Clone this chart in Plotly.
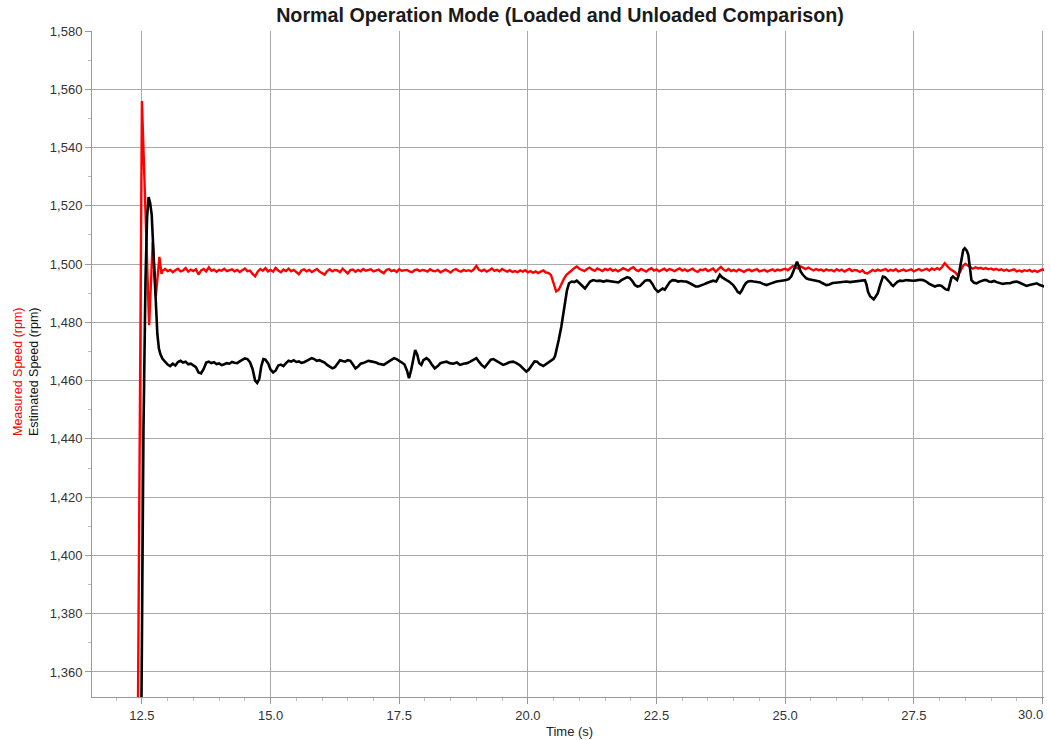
import numpy as np
import plotly.graph_objects as go

# ---------------- data ----------------
# Measured speed: start-up transient (explicit samples)
meas_t_transient = [12.38, 12.43, 12.465, 12.50, 12.64, 12.71, 12.77, 12.84, 12.88]
meas_v_transient = [1230, 1351, 1443, 1556, 1479, 1507.5, 1489, 1502.5, 1496.6]

# Measured speed: steady part sampled every 0.05 s from 12.90 s
meas_t0 = 12.90
meas_dt = 0.05
meas_v_steady = [
    1497.7, 1498.3, 1497.6, 1498.0, 1497.2, 1497.9, 1498.4, 1497.5, 1497.8, 1498.6, 1497.4, 1498.1, 1497.6, 1498.2, 1496.4, 1497.8, 1498.3, 1497.5, 1498.9, 1497.7,
    1498.1, 1497.4, 1498.0, 1497.7, 1498.4, 1497.6, 1497.9, 1498.2, 1497.5, 1498.0, 1497.3, 1497.9, 1498.5, 1497.6, 1497.8, 1496.6, 1495.8, 1497.4, 1498.3, 1497.7,
    1498.6, 1497.5, 1498.0, 1497.4, 1498.7, 1497.8, 1497.2, 1498.1, 1497.6, 1498.4, 1497.5, 1498.0, 1497.1, 1496.5, 1497.8, 1498.2, 1497.5, 1498.0, 1497.3, 1497.9,
    1498.3, 1497.4, 1497.0, 1496.4, 1497.6, 1498.2, 1497.5, 1498.0, 1497.8, 1497.2, 1498.4, 1497.6, 1496.8, 1497.9, 1498.1, 1497.4, 1498.0, 1497.5, 1498.3, 1497.7,
    1497.9, 1498.2, 1497.5, 1497.9, 1498.1, 1497.4, 1496.9, 1498.0, 1498.3, 1497.6, 1497.9, 1497.3, 1498.2, 1497.7, 1497.8, 1498.0, 1497.5, 1497.2, 1497.9, 1498.1,
    1497.6, 1498.0, 1497.8, 1497.4, 1498.2, 1497.7, 1497.5, 1498.0, 1497.2, 1497.8, 1498.1, 1497.6, 1497.1, 1497.9, 1498.3, 1497.7, 1497.4, 1498.0, 1497.6, 1497.9,
    1497.5, 1498.2, 1499.4, 1498.0, 1497.6, 1498.1, 1497.4, 1497.9, 1498.5, 1497.7, 1498.0, 1497.5, 1498.3, 1497.8, 1497.4, 1497.9, 1497.3, 1497.6, 1497.2, 1497.8,
    1497.4, 1497.9, 1497.2, 1497.6, 1497.0, 1497.5, 1496.9, 1497.4, 1497.8, 1497.1, 1497.0, 1496.2, 1493.6, 1490.6, 1491.2, 1493.2, 1494.9, 1496.3, 1497.2, 1497.8,
    1498.6, 1499.2, 1498.4, 1498.0, 1497.6, 1498.3, 1498.8, 1498.1, 1497.7, 1498.5, 1498.0, 1497.6, 1498.3, 1497.9, 1498.4, 1497.7, 1498.1, 1497.5, 1498.0, 1498.6,
    1498.2, 1497.8, 1498.5, 1498.9, 1498.0, 1497.6, 1498.3, 1497.9, 1497.4, 1498.1, 1498.6, 1497.8, 1498.2, 1497.5, 1498.0, 1498.4, 1497.7, 1498.3, 1498.0, 1497.6,
    1498.1, 1498.5, 1497.8, 1498.2, 1497.6, 1498.0, 1498.4, 1497.7, 1497.3, 1498.1, 1497.9, 1498.3, 1497.6, 1498.0, 1498.5, 1497.4, 1498.2, 1499.0, 1498.1, 1497.7,
    1498.3, 1497.6, 1498.0, 1497.5, 1498.2, 1497.8, 1497.3, 1497.9, 1498.1, 1497.6, 1497.9, 1498.3, 1497.5, 1497.8, 1498.0, 1497.4, 1497.9, 1498.2, 1497.6, 1498.1,
    1497.8, 1498.0, 1498.4, 1497.9, 1498.6, 1499.3, 1499.0, 1498.5, 1499.2, 1498.7, 1498.3, 1498.8, 1498.2, 1497.8, 1498.3, 1497.9, 1498.1, 1497.6, 1498.2, 1497.8,
    1498.0, 1497.5, 1498.2, 1497.7, 1498.1, 1497.4, 1497.9, 1498.3, 1497.6, 1498.0, 1497.8, 1497.3, 1497.9, 1497.0, 1496.8, 1497.4, 1498.0, 1497.6, 1498.1, 1497.7,
    1497.9, 1498.3, 1497.6, 1498.0, 1497.7, 1498.2, 1497.5, 1497.9, 1498.1, 1497.6, 1497.8, 1498.2, 1497.5, 1497.9, 1498.3, 1497.7, 1498.0, 1498.4, 1497.8, 1498.5,
    1498.0, 1498.6, 1498.1, 1499.0, 1500.3, 1499.2, 1498.4, 1497.8, 1497.2, 1496.2, 1497.3, 1499.2, 1500.1, 1499.5, 1498.8, 1498.4, 1498.9, 1498.5, 1498.7, 1498.3,
    1498.6, 1498.2, 1498.5, 1498.0, 1498.4, 1497.9, 1498.2, 1497.7, 1498.1, 1497.6, 1497.9, 1498.2, 1497.5, 1497.8, 1497.4, 1497.9, 1497.6, 1498.0, 1497.4, 1497.8,
    1497.3, 1497.9, 1498.2, 1497.8,
]

# Estimated speed (explicit samples)
est_t = [
    12.45, 12.49, 12.53, 12.57, 12.60, 12.63, 12.66, 12.69, 12.72, 12.75, 12.78, 12.80, 12.83, 12.86, 12.90, 12.95,
    13.00, 13.05, 13.10, 13.15, 13.20, 13.25, 13.30, 13.35, 13.40, 13.45, 13.50, 13.55, 13.60, 13.65, 13.70, 13.75,
    13.80, 13.85, 13.90, 13.95, 14.00, 14.05, 14.10, 14.15, 14.20, 14.25, 14.30, 14.35, 14.40, 14.45, 14.50, 14.55,
    14.60, 14.65, 14.70, 14.74, 14.78, 14.82, 14.86, 14.90, 14.95, 15.00, 15.05, 15.10, 15.15, 15.20, 15.25, 15.30,
    15.35, 15.40, 15.45, 15.50, 15.55, 15.60, 15.65, 15.70, 15.75, 15.80, 15.85, 15.90, 15.95, 16.00, 16.05, 16.10,
    16.15, 16.20, 16.25, 16.30, 16.35, 16.40, 16.45, 16.50, 16.55, 16.60, 16.65, 16.70, 16.75, 16.80, 16.85, 16.90,
    16.95, 17.00, 17.05, 17.10, 17.15, 17.20, 17.25, 17.30, 17.35, 17.40, 17.45, 17.50, 17.55, 17.60, 17.65, 17.69,
    17.73, 17.77, 17.81, 17.85, 17.89, 17.93, 17.97, 18.03, 18.08, 18.13, 18.19, 18.25, 18.30, 18.36, 18.42, 18.48,
    18.55, 18.62, 18.68, 18.75, 18.82, 18.88, 18.94, 19.00, 19.05, 19.10, 19.16, 19.22, 19.28, 19.33, 19.38, 19.45,
    19.52, 19.58, 19.64, 19.71, 19.78, 19.85, 19.92, 19.97, 20.02, 20.08, 20.13, 20.18, 20.23, 20.30, 20.36, 20.42,
    20.46, 20.50, 20.53, 20.56, 20.60, 20.65, 20.69, 20.72, 20.76, 20.80, 20.85, 20.90, 20.95, 21.00, 21.05, 21.11,
    21.16, 21.21, 21.27, 21.33, 21.40, 21.47, 21.53, 21.60, 21.66, 21.72, 21.76, 21.82, 21.88, 21.93, 21.98, 22.03,
    22.08, 22.13, 22.18, 22.23, 22.28, 22.33, 22.37, 22.42, 22.47, 22.53, 22.58, 22.62, 22.66, 22.71, 22.76, 22.81,
    22.86, 22.92, 22.98, 23.03, 23.08, 23.14, 23.20, 23.26, 23.31, 23.37, 23.43, 23.49, 23.54, 23.60, 23.66, 23.70,
    23.73, 23.77, 23.82, 23.86, 23.91, 23.95, 23.99, 24.04, 24.08, 24.12, 24.16, 24.20, 24.24, 24.28, 24.33, 24.39,
    24.45, 24.51, 24.57, 24.64, 24.70, 24.76, 24.83, 24.90, 24.96, 25.02, 25.07, 25.12, 25.16, 25.20, 25.23, 25.26,
    25.30, 25.34, 25.38, 25.41, 25.46, 25.52, 25.58, 25.63, 25.67, 25.72, 25.76, 25.80, 25.86, 25.92, 25.98, 26.06,
    26.12, 26.19, 26.26, 26.32, 26.38, 26.44, 26.50, 26.55, 26.58, 26.61, 26.65, 26.69, 26.72, 26.75, 26.78, 26.80,
    26.84, 26.87, 26.90, 26.94, 26.97, 27.00, 27.04, 27.07, 27.10, 27.14, 27.18, 27.23, 27.29, 27.35, 27.42, 27.49,
    27.55, 27.62, 27.68, 27.74, 27.80, 27.86, 27.91, 27.96, 28.00, 28.04, 28.08, 28.12, 28.17, 28.20, 28.23, 28.26,
    28.30, 28.34, 28.37, 28.40, 28.43, 28.46, 28.49, 28.53, 28.56, 28.59, 28.62, 28.67, 28.72, 28.77, 28.82, 28.87,
    28.91, 28.96, 29.01, 29.06, 29.11, 29.17, 29.23, 29.30, 29.37, 29.43, 29.50, 29.56, 29.62, 29.69, 29.75, 29.82,
    29.89, 29.95, 30.02, 30.06,
]
est_v = [
    1250, 1351, 1443, 1495, 1516, 1523, 1521, 1517, 1506, 1494, 1482, 1476, 1471, 1469, 1467.5, 1466.5,
    1465.5, 1465.0, 1465.8, 1465.2, 1466.4, 1466.8, 1466.2, 1466.5, 1465.6, 1465.8, 1465.3, 1464.6, 1462.8, 1462.5, 1464.0, 1466.2,
    1466.5, 1466.0, 1466.3, 1465.7, 1465.9, 1465.3, 1465.6, 1466.0, 1465.8, 1466.4, 1466.1, 1466.0, 1466.6, 1467.0, 1467.6, 1467.4,
    1466.3, 1464.0, 1460.0, 1459.2, 1460.5, 1465.0, 1467.4, 1467.2, 1466.0, 1463.8, 1462.8, 1463.5, 1465.2, 1465.5, 1465.0, 1466.0,
    1466.8, 1466.5, 1467.0, 1466.4, 1466.6, 1466.1, 1466.3, 1466.8, 1467.2, 1467.7, 1467.4, 1466.8, 1467.0, 1466.5, 1466.2, 1465.4,
    1464.8, 1464.2, 1464.6, 1466.0, 1467.0, 1466.7, 1466.5, 1467.0, 1466.8, 1465.5, 1464.2, 1464.8, 1465.8, 1466.0, 1466.4, 1466.8,
    1466.6, 1466.5, 1466.2, 1465.8, 1465.6, 1465.4, 1466.0, 1466.6, 1467.3, 1467.7, 1467.4, 1466.8, 1466.0, 1465.6, 1463.5, 1460.8,
    1463.5, 1467.0, 1470.5, 1469.0, 1466.0, 1465.4, 1467.0, 1467.7, 1467.0, 1465.6, 1464.2, 1465.0, 1466.0, 1466.3, 1466.5, 1466.0,
    1465.8, 1466.2, 1465.4, 1465.8, 1466.0, 1466.5, 1467.2, 1467.7, 1466.5, 1465.4, 1464.5, 1465.8, 1467.2, 1467.4, 1466.8, 1466.0,
    1465.4, 1465.8, 1466.3, 1466.5, 1466.0, 1465.2, 1463.8, 1463.1, 1463.8, 1465.5, 1466.6, 1466.5, 1465.6, 1465.0, 1465.8, 1466.5,
    1467.0, 1467.5, 1468.5, 1470.5, 1474.0, 1478.5, 1483.0, 1487.7, 1491.0, 1493.4, 1494.0, 1493.8, 1494.3, 1493.5, 1492.6, 1491.6,
    1492.8, 1494.0, 1494.5, 1494.2, 1494.3, 1494.0, 1494.3, 1494.1, 1493.8, 1493.6, 1493.7, 1494.5, 1495.0, 1495.5, 1495.2, 1494.2,
    1492.8, 1492.3, 1492.5, 1493.4, 1494.3, 1494.5, 1494.4, 1493.2, 1491.5, 1490.5, 1491.2, 1491.6, 1491.2, 1492.5, 1493.9, 1494.5,
    1494.4, 1494.0, 1494.2, 1494.0, 1494.0, 1493.5, 1492.8, 1492.3, 1492.3, 1492.6, 1493.1, 1493.6, 1494.0, 1494.3, 1494.0, 1495.2,
    1496.3, 1495.5, 1494.8, 1494.5, 1494.0, 1493.5, 1492.8, 1491.5, 1490.4, 1490.0, 1491.0, 1492.5, 1493.5, 1494.0, 1494.2, 1494.0,
    1493.8, 1493.7, 1493.2, 1492.8, 1493.2, 1493.6, 1494.0, 1494.2, 1494.3, 1494.5, 1494.8, 1495.8, 1497.5, 1499.5, 1500.8, 1499.5,
    1497.5, 1496.4, 1495.6, 1495.1, 1494.8, 1494.6, 1494.3, 1494.2, 1494.0, 1493.5, 1493.1, 1492.8, 1493.0, 1493.5, 1493.6, 1493.7,
    1493.9, 1494.0, 1493.8, 1494.0, 1494.2, 1494.3, 1494.4, 1494.5, 1493.0, 1490.5, 1489.0, 1488.2, 1487.9, 1488.6, 1489.5, 1490.0,
    1492.5, 1494.5, 1495.7, 1495.5, 1495.0, 1494.5, 1493.6, 1492.9, 1492.5, 1493.2, 1493.9, 1494.3, 1494.2, 1494.5, 1494.3, 1494.3,
    1494.4, 1494.6, 1494.5, 1494.0, 1493.2, 1492.6, 1492.3, 1492.6, 1492.7, 1492.5, 1492.0, 1491.3, 1491.1, 1493.0, 1495.2, 1495.7,
    1495.0, 1494.5, 1496.0, 1499.5, 1502.5, 1504.8, 1505.4, 1504.6, 1503.1, 1499.0, 1494.5, 1493.6, 1493.4, 1493.9, 1494.3, 1494.5,
    1494.5, 1494.0, 1493.9, 1494.2, 1493.8, 1493.5, 1493.2, 1493.4, 1493.4, 1493.8, 1494.0, 1493.6, 1493.0, 1492.5, 1492.8, 1493.2,
    1493.4, 1492.8, 1492.3, 1492.2,
]

x_tick_vals = [12.5, 15.0, 17.5, 20.0, 22.5, 25.0, 27.5, 30.0]
x_tick_text = ["12.5", "15.0", "17.5", "20.0", "22.5", "25.0", "27.5", ""]
LAST_X_LABEL = "30.0"

TITLE = "Normal Operation Mode (Loaded and Unloaded Comparison)"
X_TITLE = "Time (s)"
Y_TITLE_RED = "Measured Speed (rpm)"
Y_TITLE_BLACK = "Estimated Speed (rpm)"

# ---------------- build ----------------
meas_t_steady = [round(meas_t0 + i * meas_dt, 3) for i in range(len(meas_v_steady))]
meas_t = meas_t_transient + meas_t_steady
meas_v = meas_v_transient + meas_v_steady

FONT = "Liberation Sans, Arial, sans-serif"
GRID = "#a9a9a9"

fig = go.Figure()
fig.add_trace(go.Scatter(x=meas_t, y=meas_v, mode="lines",
                         line=dict(color="#ff0000", width=2.4), name=Y_TITLE_RED))
fig.add_trace(go.Scatter(x=est_t, y=est_v, mode="lines",
                         line=dict(color="#000000", width=2.6), name=Y_TITLE_BLACK))

fig.update_layout(
    width=1051, height=740,
    margin=dict(l=92, r=7, t=31, b=43, autoexpand=False),
    paper_bgcolor="white", plot_bgcolor="white",
    showlegend=False,
    font=dict(family=FONT, size=13, color="#222222"),
    title=dict(text=TITLE, x=560 / 1051, xanchor="center", xref="container",
               y=1 - 15 / 740, yanchor="middle",
               font=dict(family=FONT, size=19.7, color="#1a1a1a", weight="bold")),
    xaxis=dict(
        range=[11.53, 30.03], tickvals=x_tick_vals, ticktext=x_tick_text,
        automargin=False,
        showgrid=True, gridcolor=GRID, gridwidth=1, zeroline=False,
        showline=True, linecolor="#999999", linewidth=1,
        ticks="outside", ticklen=6, tickcolor="#999999",
        minor=dict(dtick=0.5, tick0=0, ticks="outside", ticklen=3, tickcolor="#bbbbbb", showgrid=False),
        tickfont=dict(family=FONT, size=13, color="#333333"),
    ),
    yaxis=dict(
        range=[1351.4, 1580], tick0=0, dtick=20, tickformat=",d",
        automargin=False,
        showgrid=True, gridcolor=GRID, gridwidth=1, zeroline=False,
        showline=True, linecolor="#999999", linewidth=1,
        ticks="outside", ticklen=6, tickcolor="#999999",
        minor=dict(dtick=10, ticks="outside", ticklen=3, tickcolor="#bbbbbb", showgrid=False),
        tickfont=dict(family=FONT, size=13, color="#333333"),
    ),
)

# last x tick label, right-aligned so it stays inside the page
fig.add_annotation(
    text=LAST_X_LABEL, xref="x", yref="paper", x=x_tick_vals[-1], y=0,
    xanchor="right", yanchor="top", xshift=3, yshift=-8, showarrow=False,
    font=dict(family=FONT, size=13, color="#333333"),
)

# x-axis title
fig.add_annotation(
    text=X_TITLE, xref="paper", yref="paper", x=(569 - 92) / 952, y=(697 - 731) / 666,
    xanchor="center", yanchor="middle", showarrow=False,
    font=dict(family=FONT, size=13, color="#222222"),
)

# y-axis title (two coloured lines)
fig.add_annotation(
    text=f"<span style='color:#ff0000'>{Y_TITLE_RED}</span><br>{Y_TITLE_BLACK}",
    xref="paper", yref="paper", x=(26 - 92) / 952, y=(697 - 372) / 666,
    xanchor="center", yanchor="middle", textangle=-90, showarrow=False,
    font=dict(family=FONT, size=12.5, color="#111111"),
)

fig.write_html("out.html")
